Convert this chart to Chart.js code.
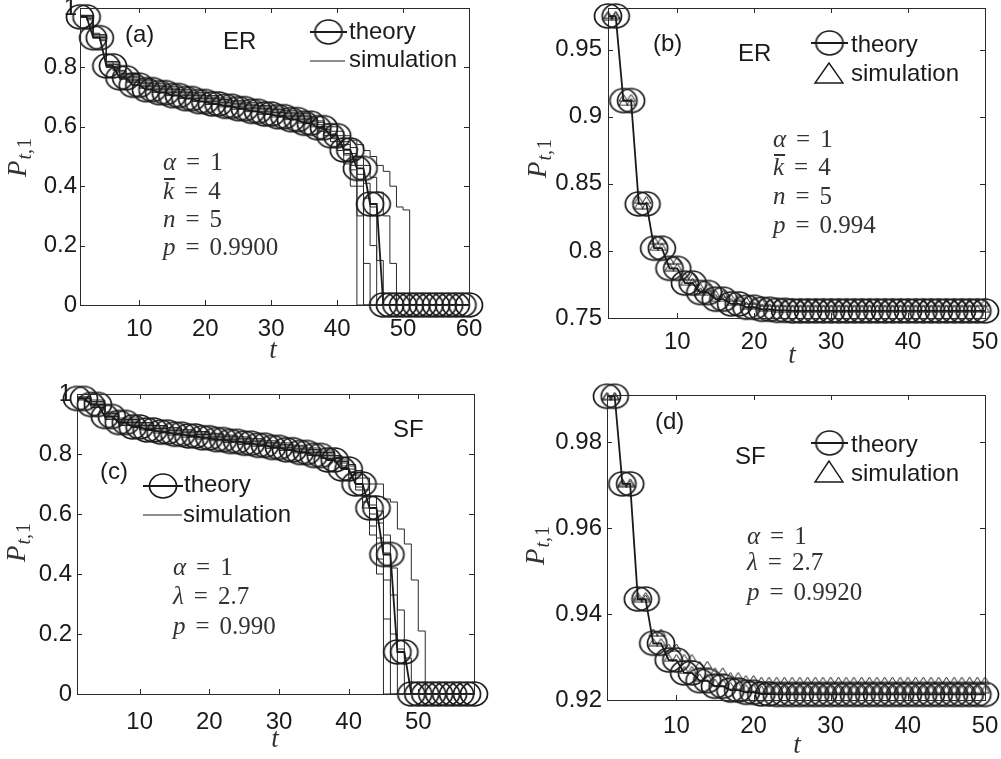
<!DOCTYPE html>
<html>
<head>
<meta charset="utf-8">
<script src="https://cdn.jsdelivr.net/npm/chart.js@4"></script>
<style>
  body { margin: 0; background: #fff; }
  canvas { position: absolute; left: 0; top: 0; }
</style>
</head>
<body>
<canvas id="chartA" width="1001" height="759"></canvas>
<canvas id="chartB" width="1001" height="759"></canvas>
<canvas id="chartC" width="1001" height="759"></canvas>
<canvas id="chartD" width="1001" height="759"></canvas>
<script>
// ---- (a) ER, p = 0.9900 ----
const tA = [1,2,3,4,5,6,7,8,9,10,11,12,13,14,15,16,17,18,19,20,21,22,23,24,25,26,27,28,29,30,
  31,32,33,34,35,36,37,38,39,40,41,42,43,44,45,46,47,48,49,50,51,52,53,54,55,56,57,58,59,60];
const theoryA = [0.97,0.97,0.90,0.90,0.805,0.805,0.765,0.765,0.74,0.74,
  0.725,0.725,0.715,0.715,0.705,0.705,0.695,0.695,0.685,0.685,
  0.677,0.677,0.669,0.669,0.661,0.661,0.652,0.652,0.643,0.643,
  0.634,0.634,0.624,0.624,0.612,0.612,0.597,0.597,0.57,0.57,
  0.522,0.522,0.46,0.46,0.34,0.34,0,0,0,0,
  0,0,0,0,0,0,0,0,0,0];
const simTA = [1,2,3,4,5,6,7,8,10,12,14,16,18,20,22,24,26,28,30,32,34,36,
  37,38,39,40,41,42,43,44,45,46,47,48,49,50,51,52,60];
const simA1 = [0.97,0.96,0.90,0.89,0.80,0.79,0.76,0.75,0.73,0.715,0.705,0.695,0.685,0.675,0.667,0.659,0.651,0.642,0.633,0.624,0.613,0.60,
  0.585,0.57,0.55,0.52,0.475,0.40,0,0,0,0,0,0,0,0,0,0,0];
const simA2 = [0.975,0.97,0.905,0.90,0.81,0.80,0.775,0.765,0.745,0.73,0.72,0.71,0.70,0.69,0.682,0.674,0.666,0.657,0.648,0.639,0.629,0.617,
  0.60,0.585,0.565,0.54,0.505,0.455,0.30,0,0,0,0,0,0,0,0,0,0];
const simA3 = [0.97,0.965,0.90,0.895,0.80,0.795,0.765,0.755,0.735,0.72,0.71,0.70,0.69,0.68,0.672,0.664,0.656,0.647,0.638,0.629,0.619,0.607,
  0.595,0.58,0.56,0.535,0.51,0.47,0.40,0.14,0,0,0,0,0,0,0,0,0];
const simA4 = [0.975,0.975,0.91,0.905,0.815,0.81,0.78,0.77,0.75,0.735,0.725,0.715,0.705,0.695,0.687,0.679,0.671,0.662,0.653,0.644,0.634,0.622,
  0.607,0.592,0.575,0.55,0.525,0.49,0.44,0.36,0.2,0,0,0,0,0,0,0,0];
const simA5 = [0.97,0.97,0.90,0.90,0.805,0.80,0.77,0.76,0.74,0.725,0.715,0.705,0.695,0.685,0.677,0.669,0.661,0.652,0.643,0.634,0.624,0.612,
  0.60,0.59,0.575,0.56,0.54,0.51,0.47,0.41,0.33,0.15,0,0,0,0,0,0,0];
const simA6 = [0.975,0.975,0.91,0.91,0.82,0.815,0.785,0.775,0.755,0.74,0.73,0.72,0.71,0.70,0.692,0.684,0.676,0.667,0.658,0.649,0.639,0.627,
  0.615,0.60,0.585,0.57,0.55,0.53,0.50,0.47,0.43,0.38,0.30,0.14,0,0,0,0,0];
const simA7 = [0.975,0.975,0.915,0.91,0.82,0.82,0.79,0.78,0.76,0.745,0.735,0.725,0.715,0.705,0.697,0.689,0.681,0.672,0.663,0.654,0.644,0.632,
  0.62,0.61,0.60,0.585,0.57,0.555,0.54,0.52,0.50,0.47,0.45,0.40,0.33,0.32,0,0,0];
const xTicksA = [10,20,30,40,50,60];
const yTicksA = [0,0.2,0.4,0.6,0.8,1];

// ---- (b) ER, p = 0.994 ----
const tB = [1,2,3,4,5,6,7,8,9,10,11,12,13,14,15,16,17,18,19,20,21,22,23,24,25,
  26,27,28,29,30,31,32,33,34,35,36,37,38,39,40,41,42,43,44,45,46,47,48,49,50];
const theoryB = [0.975,0.975,0.912,0.912,0.835,0.835,0.802,0.802,0.787,0.787,
  0.776,0.776,0.769,0.769,0.764,0.764,0.7605,0.7605,0.758,0.758,
  0.7565,0.7565,0.7557,0.7557,0.7553,0.7553,0.7553,0.7553,0.7553,0.7553,
  0.7553,0.7553,0.7553,0.7553,0.7553,0.7553,0.7553,0.7553,0.7553,0.7553,
  0.7553,0.7553,0.7553,0.7553,0.7553,0.7553,0.7553,0.7553,0.7553,0.7553];
const simB1 = [0.976,0.976,0.914,0.914,0.838,0.838,0.808,0.808,0.793,0.793,
  0.781,0.781,0.773,0.773,0.768,0.768,0.765,0.765,0.763,0.763,
  0.7618,0.7618,0.7618,0.7618,0.7618,0.7618,0.7618,0.7618,0.7618,0.7618,
  0.7618,0.7618,0.7618,0.7618,0.7618,0.7618,0.7618,0.7618,0.7618,0.7618,
  0.7618,0.7618,0.7618,0.7618,0.7618,0.7618,0.7618,0.7618,0.7618,0.7618];
const simB2 = [0.975,0.975,0.911,0.911,0.834,0.834,0.803,0.803,0.788,0.788,
  0.777,0.777,0.77,0.77,0.765,0.765,0.762,0.762,0.7595,0.7595,
  0.758,0.758,0.7568,0.7568,0.7568,0.7568,0.7568,0.7568,0.7568,0.7568,
  0.7568,0.7568,0.7568,0.7568,0.7568,0.7568,0.7568,0.7568,0.7568,0.7568,
  0.7568,0.7568,0.7568,0.7568,0.7568,0.7568,0.7568,0.7568,0.7568,0.7568];
const xTicksB = [10,20,30,40,50];
const yTicksB = [0.75,0.8,0.85,0.9,0.95];

// ---- (c) SF, p = 0.990 ----
const tC = [1,2,3,4,5,6,7,8,9,10,11,12,13,14,15,16,17,18,19,20,21,22,23,24,25,26,27,28,29,30,
  31,32,33,34,35,36,37,38,39,40,41,42,43,44,45,46,47,48,49,50,51,52,53,54,55,56,57,58];
const theoryC = [0.985,0.985,0.965,0.965,0.925,0.925,0.905,0.905,0.89,0.89,
  0.88,0.88,0.873,0.873,0.866,0.866,0.86,0.86,0.854,0.854,
  0.848,0.848,0.842,0.842,0.836,0.836,0.829,0.829,0.822,0.822,
  0.814,0.814,0.805,0.805,0.795,0.795,0.78,0.78,0.75,0.75,
  0.70,0.70,0.62,0.62,0.465,0.465,0.14,0.14,0,0,
  0,0,0,0,0,0,0,0];
const simTC = [1,2,3,4,5,6,7,8,10,12,14,16,18,20,22,24,26,28,30,32,34,36,
  38,39,40,41,42,43,44,45,46,47,48,49,50,51,52,58];
const simC1 = [0.98,0.975,0.955,0.955,0.915,0.915,0.895,0.895,0.88,0.87,0.863,0.856,0.85,0.844,0.838,0.832,0.826,0.819,0.812,0.804,0.795,0.785,
  0.77,0.75,0.72,0.68,0.62,0.53,0.40,0,0,0,0,0,0,0,0,0];
const simC2 = [0.985,0.985,0.97,0.97,0.93,0.93,0.91,0.91,0.895,0.885,0.878,0.871,0.865,0.859,0.853,0.847,0.841,0.834,0.827,0.819,0.81,0.80,
  0.775,0.755,0.73,0.69,0.64,0.56,0.45,0.25,0,0,0,0,0,0,0,0];
const simC3 = [0.985,0.98,0.96,0.96,0.92,0.92,0.90,0.90,0.885,0.875,0.868,0.861,0.855,0.849,0.843,0.837,0.831,0.824,0.817,0.809,0.80,0.79,
  0.78,0.76,0.74,0.70,0.66,0.60,0.52,0.38,0.20,0,0,0,0,0,0,0];
const simC4 = [0.99,0.99,0.975,0.975,0.935,0.935,0.915,0.915,0.90,0.89,0.883,0.876,0.87,0.864,0.858,0.852,0.846,0.839,0.832,0.824,0.815,0.805,
  0.785,0.77,0.75,0.72,0.68,0.63,0.57,0.47,0.33,0.15,0,0,0,0,0,0];
const simC5 = [0.985,0.985,0.965,0.965,0.925,0.925,0.905,0.905,0.89,0.88,0.873,0.866,0.86,0.854,0.848,0.842,0.836,0.829,0.822,0.814,0.805,0.795,
  0.79,0.775,0.76,0.73,0.70,0.66,0.61,0.53,0.42,0.28,0.12,0,0,0,0,0];
const simC6 = [0.99,0.99,0.98,0.98,0.94,0.94,0.92,0.92,0.905,0.895,0.888,0.881,0.875,0.869,0.863,0.857,0.851,0.844,0.837,0.829,0.82,0.81,
  0.795,0.78,0.765,0.745,0.72,0.70,0.70,0.65,0.64,0.55,0.50,0.38,0.21,0,0,0];
const xTicksC = [10,20,30,40,50];
const yTicksC = [0,0.2,0.4,0.6,0.8,1];

// ---- (d) SF, p = 0.9920 ----
const tD = [1,2,3,4,5,6,7,8,9,10,11,12,13,14,15,16,17,18,19,20,21,22,23,24,25,
  26,27,28,29,30,31,32,33,34,35,36,37,38,39,40,41,42,43,44,45,46,47,48,49,50];
const theoryD = [0.9907,0.9907,0.9703,0.9703,0.9435,0.9435,0.9332,0.9332,0.9293,0.9293,
  0.9263,0.9263,0.9245,0.9245,0.9232,0.9232,0.9223,0.9223,0.9218,0.9218,
  0.9214,0.9214,0.9213,0.9213,0.9213,0.9213,0.9213,0.9213,0.9213,0.9213,
  0.9213,0.9213,0.9213,0.9213,0.9213,0.9213,0.9213,0.9213,0.9213,0.9213,
  0.9213,0.9213,0.9213,0.9213,0.9213,0.9213,0.9213,0.9213,0.9213,0.9213];
const simD1 = [0.9908,0.9908,0.9707,0.9707,0.9442,0.9442,0.9357,0.9357,0.9322,0.9322,
  0.9298,0.9298,0.9282,0.9282,0.9267,0.9267,0.9256,0.9256,0.9249,0.9249,
  0.9245,0.9245,0.9245,0.9245,0.9245,0.9245,0.9245,0.9245,0.9245,0.9245,
  0.9245,0.9245,0.9245,0.9245,0.9245,0.9245,0.9245,0.9245,0.9245,0.9245,
  0.9245,0.9245,0.9245,0.9245,0.9245,0.9245,0.9245,0.9245,0.9245,0.9245];
const simD2 = [0.9906,0.9906,0.9703,0.9703,0.9436,0.9436,0.9335,0.9335,0.9298,0.9298,
  0.927,0.927,0.9253,0.9253,0.9241,0.9241,0.9233,0.9233,0.9228,0.9228,
  0.9225,0.9225,0.9225,0.9225,0.9225,0.9225,0.9225,0.9225,0.9225,0.9225,
  0.9225,0.9225,0.9225,0.9225,0.9225,0.9225,0.9225,0.9225,0.9225,0.9225,
  0.9225,0.9225,0.9225,0.9225,0.9225,0.9225,0.9225,0.9225,0.9225,0.9225];
const xTicksD = [10,20,30,40,50];
const yTicksD = [0.92,0.94,0.96,0.98];

const INK = "#1a1a1a";
const SANS = '"Liberation Sans", Arial, sans-serif';
const SERIF = '"Liberation Serif", "Times New Roman", serif';

// markers (the figure's circles are a bit wider than tall)
function ellipseMark(rx, ry, lw) {
  const c = document.createElement("canvas");
  c.width = 2 * Math.ceil(rx + lw + 1);
  c.height = 2 * Math.ceil(ry + lw + 1);
  const g = c.getContext("2d");
  g.strokeStyle = INK;
  g.lineWidth = lw;
  g.beginPath();
  g.ellipse(c.width / 2, c.height / 2, rx, ry, 0, 0, Math.PI * 2);
  g.stroke();
  return c;
}
function triMark(w, h, lw) {
  const c = document.createElement("canvas");
  c.width = w + 2;
  c.height = h + 2;
  const g = c.getContext("2d");
  g.strokeStyle = INK;
  g.lineWidth = lw;
  g.beginPath();
  g.moveTo(c.width / 2, 1);
  g.lineTo(1, h + 1);
  g.lineTo(w + 1, h + 1);
  g.closePath();
  g.stroke();
  return c;
}
const circleMark = ellipseMark(13.5, 12, 1.7);
const smallTri = triMark(9, 7, 1);

const xy = (ts, vs) => ts.map((t, i) => ({ x: t, y: vs[i] }));

function theorySet(ts, vs) {
  return {
    data: xy(ts, vs), showLine: true, borderColor: INK, borderWidth: 1.8,
    pointStyle: circleMark, pointRadius: 6, clip: false,
  };
}
function simLine(ts, vs) {
  return {
    data: xy(ts, vs), showLine: true, stepped: true, borderColor: "#2a2a2a",
    borderWidth: 1, pointRadius: 0, clip: false,
  };
}
function simTri(ts, vs) {
  return {
    data: xy(ts, vs), showLine: false, pointStyle: smallTri, pointRadius: 4, clip: false,
  };
}

// ---- drawing helpers ----
function frame(chart, xTicks, yTicks) {
  const { ctx, chartArea: a, scales } = chart;
  ctx.save();
  ctx.strokeStyle = "#2a2a2a";
  ctx.lineWidth = 1;
  ctx.strokeRect(Math.round(a.left) + 0.5, Math.round(a.top) + 0.5,
    Math.round(a.right - a.left), Math.round(a.bottom - a.top));
  ctx.beginPath();
  xTicks.forEach((v) => {
    const px = Math.round(scales.x.getPixelForValue(v)) + 0.5;
    ctx.moveTo(px, a.bottom); ctx.lineTo(px, a.bottom - 5);
    ctx.moveTo(px, a.top); ctx.lineTo(px, a.top + 5);
  });
  yTicks.forEach((v) => {
    const py = Math.round(scales.y.getPixelForValue(v)) + 0.5;
    ctx.moveTo(a.left, py); ctx.lineTo(a.left + 5, py);
    ctx.moveTo(a.right, py); ctx.lineTo(a.right - 5, py);
  });
  ctx.stroke();
  ctx.restore();
}
function label(ctx, s, x, y) {
  ctx.font = "24px " + SANS;
  ctx.fillStyle = INK;
  ctx.textAlign = "left";
  ctx.textBaseline = "middle";
  ctx.fillText(s, x, y);
}
function mathLine(ctx, x, y, lhs, rhs, bar) {
  ctx.fillStyle = "#333";
  ctx.textAlign = "left";
  ctx.textBaseline = "middle";
  ctx.font = "italic 25px " + SERIF;
  ctx.fillText(lhs, x, y);
  const w = ctx.measureText(lhs).width;
  if (bar) ctx.fillRect(x + 1, y - 14, w, 2);
  ctx.font = "25px " + SERIF;
  const eqX = x + w + 10;
  ctx.fillText("=", eqX, y);
  ctx.fillText(rhs, eqX + ctx.measureText("=").width + 10, y);
}
function yTitle(ctx, bx, by) {
  ctx.save();
  ctx.translate(bx, by);
  ctx.rotate(-Math.PI / 2);
  ctx.fillStyle = "#333";
  ctx.textAlign = "left";
  ctx.textBaseline = "alphabetic";
  ctx.font = "italic 27px " + SERIF;
  ctx.fillText("P", 0, 0);
  const w = ctx.measureText("P").width;
  ctx.font = "italic 20px " + SERIF;
  ctx.fillText("t,", w + 1, 5);
  const w2 = ctx.measureText("t,").width;
  ctx.font = "20px " + SERIF;
  ctx.fillText("1", w + 2 + w2, 5);
  ctx.restore();
}
function xTitle(ctx, cx, by) {
  ctx.fillStyle = "#333";
  ctx.textAlign = "center";
  ctx.textBaseline = "alphabetic";
  ctx.font = "italic 27px " + SERIF;
  ctx.fillText("t", cx, by);
}
function legendCircle(ctx, x0, x1, y) {
  ctx.strokeStyle = INK;
  ctx.lineWidth = 1.8;
  ctx.beginPath(); ctx.moveTo(x0, y); ctx.lineTo(x1, y); ctx.stroke();
  const cx = (x0 + x1) / 2;
  ctx.drawImage(circleMark, cx - circleMark.width / 2, y - circleMark.height / 2);
}
function legendLine(ctx, x0, x1, y) {
  ctx.strokeStyle = INK;
  ctx.lineWidth = 1;
  ctx.beginPath(); ctx.moveTo(x0, y); ctx.lineTo(x1, y); ctx.stroke();
}
function legendTri(ctx, cx, top, bottom) {
  ctx.strokeStyle = INK;
  ctx.lineWidth = 1.4;
  ctx.beginPath();
  ctx.moveTo(cx, top); ctx.lineTo(cx - 14, bottom); ctx.lineTo(cx + 14, bottom);
  ctx.closePath(); ctx.stroke();
}

function makePanel(id, p) {
  const tickFont = { family: SANS, size: 24 };
  return new Chart(document.getElementById(id), {
    type: "scatter",
    data: { datasets: p.datasets },
    options: {
      responsive: false,
      animation: false,
      devicePixelRatio: 1,
      layout: { padding: { left: 0, top: p.area.top, right: 1001 - p.area.right, bottom: 0 } },
      plugins: { legend: { display: false }, tooltip: { enabled: false } },
      scales: {
        x: {
          type: "linear", min: p.xMin, max: p.xMax, bounds: "data",
          afterBuildTicks: (s) => { s.ticks = p.xTicks.map((v) => ({ value: v })); },
          afterFit: (s) => { s.height = 759 - p.area.bottom; s.paddingLeft = 0; s.paddingRight = 0; },
          grid: { display: false, drawTicks: false }, border: { display: false },
          ticks: { font: tickFont, color: INK, padding: p.xPad, maxRotation: 0, autoSkip: false,
            callback: (v) => String(v) },
        },
        y: {
          type: "linear", min: p.yMin, max: p.yMax, bounds: "data",
          afterBuildTicks: (s) => { s.ticks = p.yTicks.map((v) => ({ value: v })); },
          afterFit: (s) => { s.width = p.area.left; s.paddingTop = 0; s.paddingBottom = 0; },
          grid: { display: false, drawTicks: false }, border: { display: false },
          ticks: { font: tickFont, color: INK, padding: p.yPad, autoSkip: false,
            callback: (v) => String(v) },
        },
      },
    },
    plugins: [{
      id: "deco",
      afterDraw(chart) {
        frame(chart, p.xTicks, p.yTicks);
        p.draw(chart.ctx);
      },
    }],
  });
}

// (a)
makePanel("chartA", {
  area: { left: 80, top: 8, right: 469, bottom: 305 },
  xMin: 1, xMax: 60, yMin: 0, yMax: 1, xTicks: xTicksA, yTicks: yTicksA, xPad: 10, yPad: 3,
  datasets: [
    theorySet(tA, theoryA),
    simLine(simTA, simA1), simLine(simTA, simA2), simLine(simTA, simA3), simLine(simTA, simA4),
    simLine(simTA, simA5), simLine(simTA, simA6), simLine(simTA, simA7),
  ],
  draw(ctx) {
    label(ctx, "(a)", 125, 35);
    label(ctx, "ER", 223, 42);
    legendCircle(ctx, 310, 347, 32);
    label(ctx, "theory", 349, 32);
    legendLine(ctx, 310, 345, 61);
    label(ctx, "simulation", 349, 60);
    mathLine(ctx, 163, 163, "α", "1");
    mathLine(ctx, 163, 192, "k", "4", true);
    mathLine(ctx, 163, 220, "n", "5");
    mathLine(ctx, 163, 248, "p", "0.9900");
    yTitle(ctx, 26, 177);
    xTitle(ctx, 273, 358);
  },
});

// (b)
makePanel("chartB", {
  area: { left: 608, top: 8, right: 985, bottom: 318 },
  xMin: 1, xMax: 50, yMin: 0.75, yMax: 0.981, xTicks: xTicksB, yTicks: yTicksB, xPad: 10, yPad: 6,
  datasets: [theorySet(tB, theoryB), simTri(tB, simB1), simTri(tB, simB2)],
  draw(ctx) {
    label(ctx, "(b)", 653, 44);
    label(ctx, "ER", 738, 54);
    legendCircle(ctx, 811, 848, 43);
    label(ctx, "theory", 851, 45);
    legendTri(ctx, 829, 63, 83);
    label(ctx, "simulation", 851, 74);
    mathLine(ctx, 773, 140, "α", "1");
    mathLine(ctx, 773, 168, "k", "4", true);
    mathLine(ctx, 773, 197, "n", "5");
    mathLine(ctx, 773, 226, "p", "0.994");
    yTitle(ctx, 546, 178);
    xTitle(ctx, 792, 363);
  },
});

// (c)
makePanel("chartC", {
  area: { left: 77, top: 394, right: 474, bottom: 694 },
  xMin: 1, xMax: 58, yMin: 0, yMax: 1, xTicks: xTicksC, yTicks: yTicksC, xPad: 14, yPad: 5,
  datasets: [
    theorySet(tC, theoryC),
    simLine(simTC, simC1), simLine(simTC, simC2), simLine(simTC, simC3),
    simLine(simTC, simC4), simLine(simTC, simC5), simLine(simTC, simC6),
  ],
  draw(ctx) {
    label(ctx, "(c)", 100, 472);
    label(ctx, "SF", 393, 430);
    legendCircle(ctx, 143, 183, 486);
    label(ctx, "theory", 184, 485);
    legendLine(ctx, 143, 182, 515);
    label(ctx, "simulation", 183, 515);
    mathLine(ctx, 173, 568, "α", "1");
    mathLine(ctx, 173, 597, "λ", "2.7");
    mathLine(ctx, 173, 627, "p", "0.990");
    yTitle(ctx, 25, 562);
    xTitle(ctx, 275, 747);
  },
});

// (d)
makePanel("chartD", {
  area: { left: 607, top: 395, right: 985, bottom: 700 },
  xMin: 1, xMax: 50, yMin: 0.92, yMax: 0.991, xTicks: xTicksD, yTicks: yTicksD, xPad: 12, yPad: 5,
  datasets: [theorySet(tD, theoryD), simTri(tD, simD1), simTri(tD, simD2)],
  draw(ctx) {
    label(ctx, "(d)", 655, 422);
    label(ctx, "SF", 735, 457);
    legendCircle(ctx, 811, 848, 443);
    label(ctx, "theory", 851, 445);
    legendTri(ctx, 829, 461, 482);
    label(ctx, "simulation", 851, 474);
    mathLine(ctx, 747, 537, "α", "1");
    mathLine(ctx, 747, 563, "λ", "2.7");
    mathLine(ctx, 747, 593, "p", "0.9920");
    yTitle(ctx, 544, 565);
    xTitle(ctx, 797, 753);
  },
});
</script>
</body>
</html>
